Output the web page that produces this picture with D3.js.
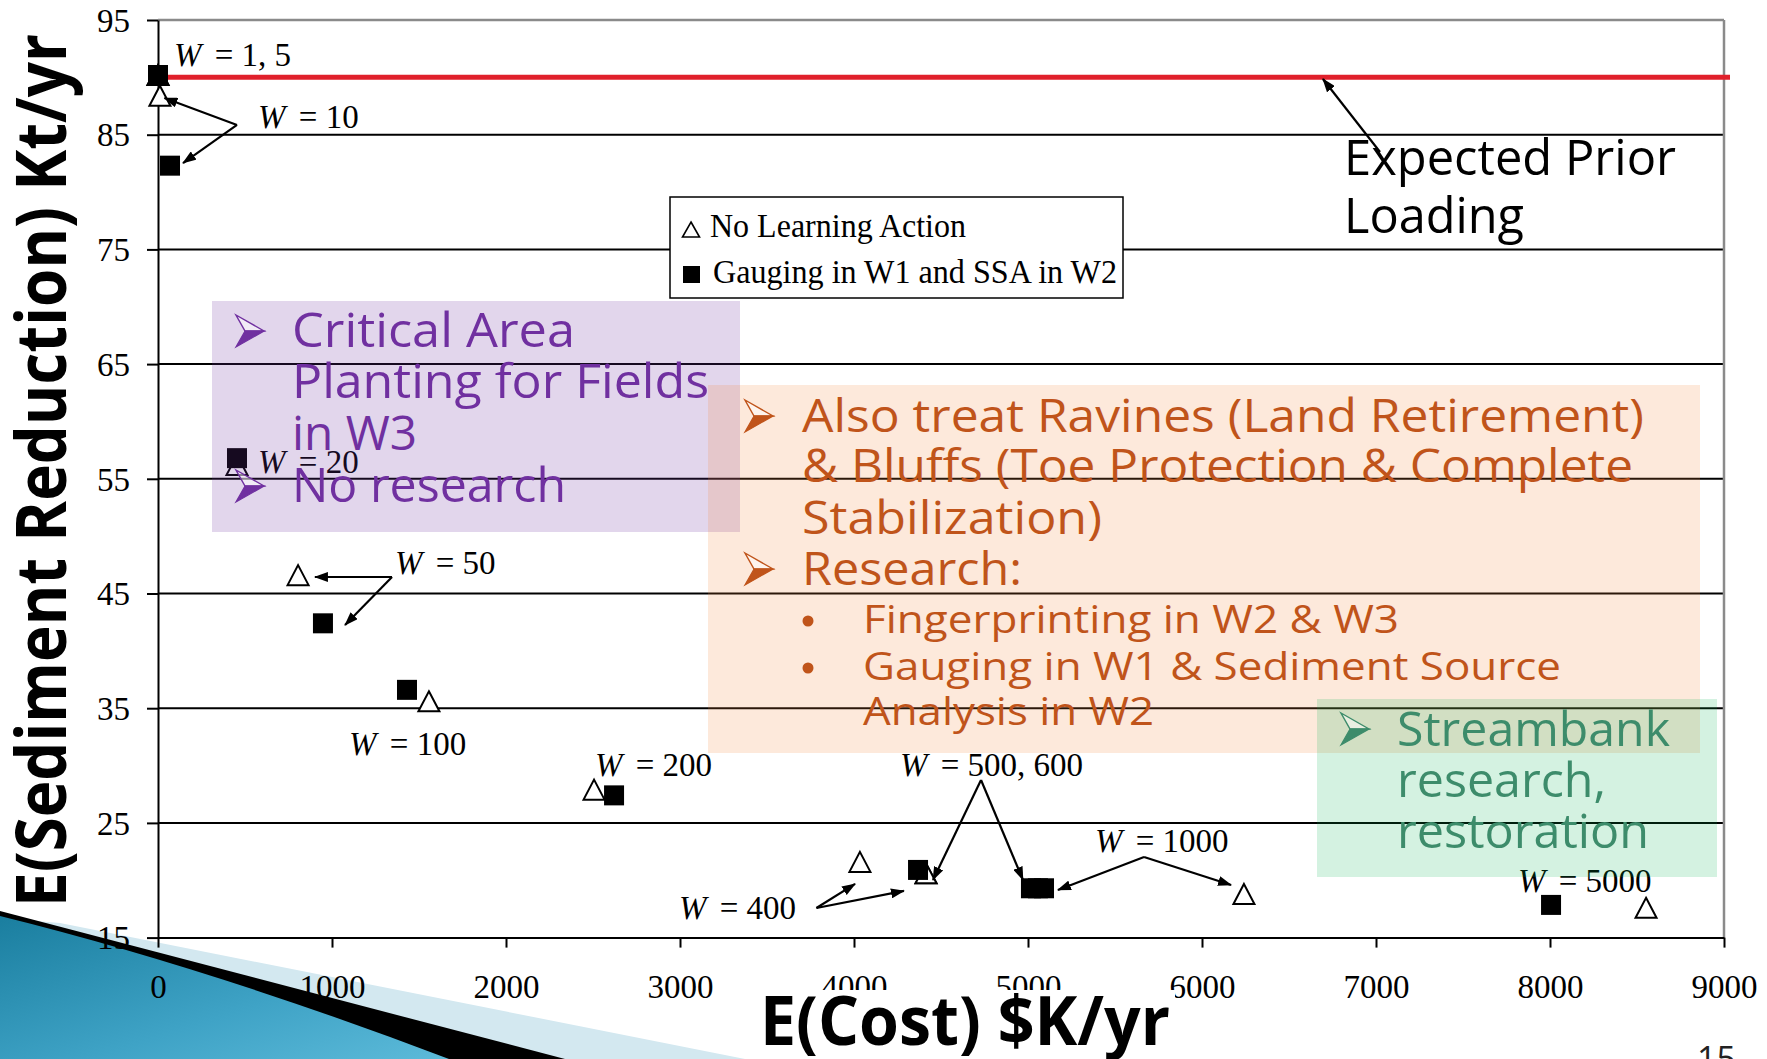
<!DOCTYPE html>
<html>
<head>
<meta charset="utf-8">
<script src="https://cdn.jsdelivr.net/npm/d3@7"></script>
<style>
  html, body { margin: 0; padding: 0; background: #ffffff; }
  svg { display: block; }
</style>
</head>
<body>
<svg id="chart" width="1767" height="1059"></svg>
<script>
// ---- Data ----------------------------------------------------------------
const weights = ["1", "5", "10", "20", "50", "100", "200", "400", "500", "600", "1000", "5000"];
// No learning action
const costNoLearning      = [0, 0, 11, 454, 805, 1557, 2506, 4034, 4414, 4414, 6241, 8552];
const reductionNoLearning = [90.2, 90.2, 88.4, 56.2, 46.6, 35.6, 27.9, 21.6, 20.6, 20.6, 18.8, 17.6];
// Gauging in W1 and SSA in W2
const costGauging      = [0, 0, 69, 454, 948, 1431, 2621, 4368, 5017, 5057, 5092, 8006];
const reductionGauging = [90.2, 90.2, 82.3, 56.8, 42.4, 36.6, 27.4, 20.9, 19.3, 19.3, 19.3, 17.85];

const xTicks = [0, 1000, 2000, 3000, 4000, 5000, 6000, 7000, 8000, 9000];
const yTicks = [15, 25, 35, 45, 55, 65, 75, 85, 95];
const priorLoading = 90;

const seriesNames = ["No Learning Action", "Gauging in W1 and SSA in W2"];

// Weight labels and leader arrows, placed in data units
const pointLabels = [
  { text: "1, 5",     x: 92,   y: 91.0 },
  { text: "10",       x: 575,  y: 85.58 },
  { text: "20",       x: 575,  y: 55.51 },
  { text: "50",       x: 1362, y: 46.7 },
  { text: "100",      x: 1098, y: 30.92 },
  { text: "200",      x: 2511, y: 29.09 },
  { text: "400",      x: 2994, y: 16.62 },
  { text: "500, 600", x: 4264, y: 29.09 },
  { text: "1000",     x: 5385, y: 22.47 },
  { text: "5000",     x: 7816, y: 18.98 }
];
const leaders = [
  { from: [454, 85.85],  to: [[37, 88.2], [144, 82.53]] },
  { from: [1345, 46.44], to: [[902, 46.44], [1075, 42.26]] },
  { from: [3784, 17.58], to: [[4006, 19.68], [4287, 19.07]] },
  { from: [4730, 28.74], to: [[4454, 20.03], [4971, 20.03]] },
  { from: [5667, 22.03], to: [[5172, 19.15], [6167, 19.59]] },
  { from: [7023, 83.49], to: [[6695, 89.86]] }
];

// ---- Setup -----------------------------------------------------------------
const svg = d3.select("#chart");
const serif = "'Liberation Serif', 'Times New Roman', serif";
const sans = "'Open Sans', 'DejaVu Sans', sans-serif";

const x = d3.scaleLinear().domain([0, 9000]).range([158, 1724]);
const y = d3.scaleLinear().domain([15, 95]).range([937.6, 20]);

const defs = svg.append("defs");
defs.append("marker")
  .attr("id", "arrowhead")
  .attr("markerUnits", "userSpaceOnUse")
  .attr("viewBox", "0 0 14 10")
  .attr("refX", 13).attr("refY", 5)
  .attr("markerWidth", 14).attr("markerHeight", 10)
  .attr("orient", "auto")
  .append("path").attr("d", "M0,0 L14,5 L0,10 Z").attr("fill", "#000");

const grad = defs.append("linearGradient").attr("id", "teal")
  .attr("x1", "0%").attr("y1", "0%").attr("x2", "100%").attr("y2", "100%");
grad.append("stop").attr("offset", "0%").attr("stop-color", "#1a7e9f");
grad.append("stop").attr("offset", "60%").attr("stop-color", "#3fa3c6");
grad.append("stop").attr("offset", "100%").attr("stop-color", "#5cbad9");

// ---- Slide corner ornament ---------------------------------------------------
const corner = svg.append("g");
corner.append("path").attr("d", "M0,918 L60,923 L745,1059 L0,1059 Z").attr("fill", "#d3e8f0");
corner.append("path").attr("d", "M0,911 L565,1059 L0,1059 Z").attr("fill", "#000");
corner.append("path").attr("d", "M0,916 Q210,968 449,1059 L0,1059 Z").attr("fill", "url(#teal)");

// ---- Grid -----------------------------------------------------------------------
const grid = svg.append("g");
grid.selectAll("line.h")
  .data(yTicks.filter(v => v > 15 && v < 95))
  .join("line")
  .attr("x1", x(0)).attr("x2", x(9000))
  .attr("y1", d => y(d)).attr("y2", d => y(d))
  .attr("stroke", "#000").attr("stroke-width", 2);
grid.append("line")
  .attr("x1", x(0)).attr("x2", x(9000)).attr("y1", y(95)).attr("y2", y(95))
  .attr("stroke", "#8a8a8a").attr("stroke-width", 2.5);
grid.append("line")
  .attr("x1", x(9000)).attr("x2", x(9000)).attr("y1", y(95)).attr("y2", y(15))
  .attr("stroke", "#8a8a8a").attr("stroke-width", 2.5);

// ---- Axes -----------------------------------------------------------------------
const yAxis = svg.append("g")
  .attr("transform", `translate(${x(0)},0)`)
  .call(d3.axisLeft(y).tickValues(yTicks).tickSize(11).tickSizeOuter(0).tickPadding(17).tickFormat(d3.format("d")));
const xAxis = svg.append("g")
  .attr("transform", `translate(0,${y(15)})`)
  .call(d3.axisBottom(x).tickValues(xTicks).tickSize(10).tickSizeOuter(0).tickFormat(d3.format("d")));
[yAxis, xAxis].forEach(a => {
  a.selectAll("path.domain").attr("stroke", "#000").attr("stroke-width", 2);
  a.selectAll(".tick line").attr("stroke", "#000").attr("stroke-width", 2);
  a.selectAll("text").attr("font-family", serif).attr("font-size", 33).attr("fill", "#000");
});
yAxis.selectAll("text").attr("dy", "0.34em");
xAxis.selectAll("text").attr("y", 998 - y(15)).attr("dy", 0);

// ---- Expected prior loading -------------------------------------------------------
svg.append("line")
  .attr("x1", x(0)).attr("x2", x(9000) + 6)
  .attr("y1", y(priorLoading)).attr("y2", y(priorLoading))
  .attr("stroke", "#e0202b").attr("stroke-width", 5);

// ---- Markers ----------------------------------------------------------------------
const triangleData = costNoLearning.map((c, i) => ({ c, r: reductionNoLearning[i], w: weights[i] }));
const squareData = costGauging.map((c, i) => ({ c, r: reductionGauging[i], w: weights[i] }));

svg.append("g").selectAll("path")
  .data(triangleData)
  .join("path")
  .attr("transform", d => `translate(${x(d.c)},${y(d.r)})`)
  .attr("d", "M0,-10 L10.5,10 L-10.5,10 Z")
  .attr("fill", "#fff").attr("stroke", "#000").attr("stroke-width", 2);

svg.append("g").selectAll("rect")
  .data(squareData)
  .join("rect")
  .attr("x", d => x(d.c) - 10).attr("y", d => y(d.r) - 10)
  .attr("width", 20).attr("height", 20)
  .attr("fill", "#000");

// ---- Weight labels and leaders ---------------------------------------------------------
const labels = svg.append("g").attr("font-family", serif).attr("font-size", 33).attr("fill", "#000");
pointLabels.forEach(p => {
  const t = labels.append("text").attr("x", x(p.x)).attr("y", y(p.y));
  t.append("tspan").attr("font-style", "italic").text("W");
  t.append("tspan").attr("dx", 5).text(" = " + p.text);
});

const leaderG = svg.append("g");
leaders.forEach(l => {
  l.to.forEach(t => {
    leaderG.append("line")
      .attr("x1", x(l.from[0])).attr("y1", y(l.from[1]))
      .attr("x2", x(t[0])).attr("y2", y(t[1]))
      .attr("stroke", "#000").attr("stroke-width", 2.2)
      .attr("marker-end", "url(#arrowhead)");
  });
});

// ---- Legend -------------------------------------------------------------------------
const legend = svg.append("g");
legend.append("rect")
  .attr("x", 670).attr("y", 197).attr("width", 453).attr("height", 101)
  .attr("fill", "#fff").attr("stroke", "#000").attr("stroke-width", 1.5);
legend.append("path")
  .attr("transform", "translate(691,229.5)")
  .attr("d", "M0,-7.5 L8.5,7.5 L-8.5,7.5 Z")
  .attr("fill", "#fff").attr("stroke", "#000").attr("stroke-width", 1.6);
legend.append("rect")
  .attr("x", 683).attr("y", 266).attr("width", 17).attr("height", 17).attr("fill", "#000");
const legendWidths = [256, 404];
legend.selectAll("text")
  .data(seriesNames)
  .join("text")
  .attr("x", (d, i) => i === 0 ? 710 : 713).attr("y", (d, i) => 237 + i * 46)
  .attr("font-family", serif).attr("font-size", 33).attr("fill", "#000")
  .attr("textLength", (d, i) => legendWidths[i]).attr("lengthAdjust", "spacingAndGlyphs")
  .text(d => d);

// ---- Callout boxes ---------------------------------------------------------------------
const boxes = svg.append("g");
boxes.append("rect").attr("x", 212).attr("y", 301).attr("width", 528).attr("height", 231)
  .attr("fill", "#7030a0").attr("fill-opacity", 0.2);
boxes.append("rect").attr("x", 708).attr("y", 385).attr("width", 992).attr("height", 368)
  .attr("fill", "#f5853a").attr("fill-opacity", 0.18);
boxes.append("rect").attr("x", 1317).attr("y", 699).attr("width", 400).attr("height", 178)
  .attr("fill", "#00b050").attr("fill-opacity", 0.17);

function arrowBullet(g, bx, cy, color) {
  g.append("path")
    .attr("d", `M${bx},${cy - 16} L${bx + 28},${cy} L${bx + 9},${cy} Z`)
    .attr("fill", "#fff").attr("fill-opacity", 0.5)
    .attr("stroke", color).attr("stroke-width", 1.4).attr("stroke-linejoin", "miter");
  g.append("path")
    .attr("d", `M${bx + 9},${cy} L${bx + 28},${cy} L${bx},${cy + 16} Z`)
    .attr("fill", color).attr("stroke", color).attr("stroke-width", 1.2);
}

function textLine(g, str, tx, ty, size, len, color) {
  const t = g.append("text")
    .attr("x", tx).attr("y", ty)
    .attr("font-family", sans).attr("font-size", size).attr("fill", color)
    .text(str);
  if (len) t.attr("textLength", len).attr("lengthAdjust", "spacingAndGlyphs");
  return t;
}

// Purple callout
const purple = "#7030a0";
const pg = svg.append("g");
arrowBullet(pg, 236, 331, purple);
textLine(pg, "Critical Area", 292, 347, 48, 283, purple);
textLine(pg, "Planting for Fields", 292, 398, 48, 417, purple);
textLine(pg, "in W3", 292, 450, 48, 125, purple);
arrowBullet(pg, 236, 486, purple);
textLine(pg, "No research", 292, 502, 48, 274, purple);

// Orange callout
const orange = "#c0541a";
const og = svg.append("g");
arrowBullet(og, 745, 416, orange);
textLine(og, "Also treat Ravines (Land Retirement)", 802, 432, 45, 842, orange);
textLine(og, "& Bluffs (Toe Protection & Complete", 802, 482, 45, 831, orange);
textLine(og, "Stabilization)", 802, 534, 45, 300, orange);
arrowBullet(og, 745, 569, orange);
textLine(og, "Research:", 802, 585, 45, 220, orange);
[["Fingerprinting in W2 & W3", 633, 536],
 ["Gauging in W1 & Sediment Source", 680, 698],
 ["Analysis in W2", 725, 291]].forEach(([s, by, len], i) => {
  if (i < 2) og.append("circle").attr("cx", 808).attr("cy", by - 12).attr("r", 5.5).attr("fill", orange);
  textLine(og, s, 863, by, 39, len, orange);
});

// Green callout
const green = "#3d8c6b";
const gg = svg.append("g");
arrowBullet(gg, 1341, 729, green);
textLine(gg, "Streambank", 1397, 746, 48, 273, green);
textLine(gg, "research,", 1397, 797, 48, 209, green);
textLine(gg, "restoration", 1397, 848, 48, 252, green);

// Prior loading caption
const cap = svg.append("g");
textLine(cap, "Expected Prior", 1344, 175, 49, 332, "#000");
textLine(cap, "Loading", 1344, 233, 49, 180, "#000");

// ---- Axis titles ---------------------------------------------------------------------------
svg.append("rect").attr("x", 750).attr("y", 990).attr("width", 425).attr("height", 69).attr("fill", "#fff");
svg.append("text")
  .attr("x", 760).attr("y", 1045)
  .attr("font-family", sans).attr("font-weight", 700).attr("font-size", 68)
  .attr("textLength", 410).attr("lengthAdjust", "spacingAndGlyphs")
  .attr("fill", "#000")
  .text("E(Cost) $K/yr");
svg.append("text")
  .attr("transform", "translate(66,907) rotate(-90)")
  .attr("font-family", sans).attr("font-weight", 700).attr("font-size", 70)
  .attr("textLength", 873).attr("lengthAdjust", "spacingAndGlyphs")
  .attr("fill", "#000")
  .text("E(Sediment Reduction) Kt/yr");

// Slide number
svg.append("text")
  .attr("x", 1697).attr("y", 1071)
  .attr("font-family", sans).attr("font-size", 34).attr("fill", "#222")
  .text("15");
</script>
</body>
</html>
